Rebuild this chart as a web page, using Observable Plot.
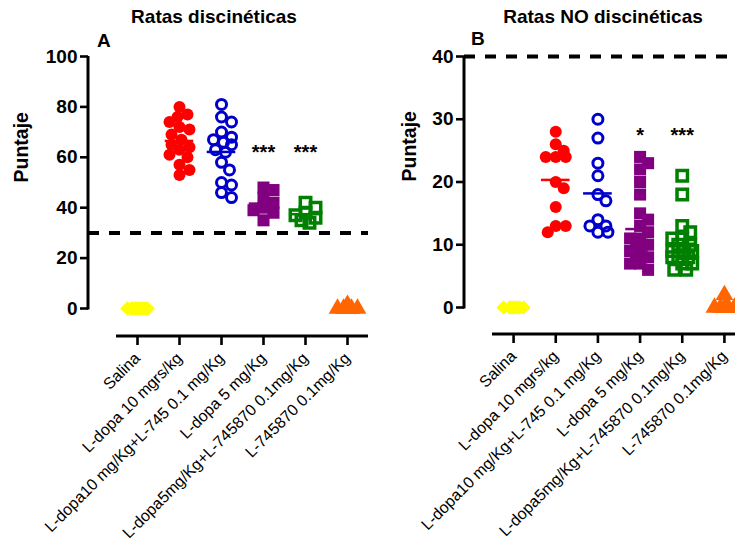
<!DOCTYPE html>
<html>
<head>
<meta charset="utf-8">
<script src="https://cdn.jsdelivr.net/npm/d3@7"></script>
<script src="https://cdn.jsdelivr.net/npm/@observablehq/plot@0.6"></script>
<style>
  html, body { margin: 0; padding: 0; background: #fff; }
  #chart { position: relative; width: 735px; height: 543px; overflow: hidden; background: #fff;
           font-family: "Liberation Sans", Arial, sans-serif; color: #000; }
  .ttl { position: absolute; font-weight: bold; font-size: 19px; white-space: nowrap; transform: translateX(-50%); line-height: 1; }
  .lbl { position: absolute; font-weight: bold; font-size: 19px; line-height: 1; }
  .panel { position: absolute; top: 0; width: 380px; height: 543px; }
  .panel svg { overflow: visible; background: transparent; max-width: none !important; height: 543px !important; }
</style>
</head>
<body>
<div id="chart">
  <div class="ttl" style="left:214px; top:7px;">Ratas discinéticas</div>
  <div class="ttl" style="left:603px; top:7px;">Ratas NO discinéticas</div>
  <div class="lbl" style="left:97px; top:31px;">A</div>
  <div class="lbl" style="left:471px; top:29px;">B</div>
  <div class="panel" id="pA" style="left:0px;"></div>
  <div class="panel" id="pB" style="left:370px;"></div>
</div>
<script>
// ---------- data ----------
const categories = [
  "Salina",
  "L-dopa 10 mgrs/kg",
  "L-dopa10 mg/Kg+L-745 0.1 mg/Kg",
  "L-dopa 5 mg/Kg",
  "L-dopa5mg/Kg+L-745870 0.1mg/Kg",
  "L-745870 0.1mg/Kg"
];
const yLabel = "Puntaje";

// Panel A: Ratas discinéticas
const a_salina        = [0,0,0,0,0,0,0,0,0,0];
const a_ldopa10       = [80,77,76,74,72,71,69,67,65,64,63,61,60,57,55,53];
const a_ldopa10_l745  = [81,76,74,70,68,67,66,65,63,62,58,55,50,49,46,44];
const a_ldopa5        = [48,47,44,42,40,39,38,35];
const a_ldopa5_l745   = [42,40,38,37,36,35,34];
const a_l745          = [0,0,0,0,0,0,0,1.5];
const a_yTicks        = [0,20,40,60,80,100];
const a_threshold     = [30];
const a_sig           = ["","","","***","***",""];
const a_sigLevel      = 62;

// Panel B: Ratas NO discinéticas
const b_salina        = [0,0,0,0,0,0,0,0];
const b_ldopa10       = [28,26,25,24,24,24,20,19,16,13,13,12];
const b_ldopa10_l745  = [30,27,23,21,18,17,14,13,13,12,12];
const b_ldopa5        = [24,23,22,20,18,15,14,13,12,11,11,10,10,10,9,9,8,8,8,7,7,6];
const b_ldopa5_l745   = [21,18,13,12,11,11,10,10,9,9,9,8,8,8,7,7,6,6];
const b_l745          = [0,0,0,0,0,0,2];
const b_yTicks        = [0,10,20,30,40];
const b_threshold     = [40];
const b_sig           = ["","","","*","***",""];
const b_sigLevel      = 27.4;

// ---------- styles ----------
const groupStyles = [
  {symbol: "diamond2", r: 6.5, fill: "#ffff00", stroke: "none", strokeWidth: 0, color: "#ffff00"},
  {symbol: "circle",   r: 6,   fill: "#ff0000", stroke: "none", strokeWidth: 0, color: "#ff0000"},
  {symbol: "circle",   r: 5,   fill: "none", stroke: "#0000cc", strokeWidth: 3, color: "#0000cc"},
  {symbol: "square",   r: 6.8, fill: "#800080", stroke: "none", strokeWidth: 0, color: "#800080"},
  {symbol: "square",   r: 5.9, fill: "none", stroke: "#008000", strokeWidth: 3.5, color: "#008000"},
  {symbol: "triangle", r: 6.6, fill: "#ff6600", stroke: "none", strokeWidth: 0, color: "#ff6600"}
];
const FONT = "'Liberation Sans', Arial, sans-serif";

// deterministic column-scatter layout (pixel offsets), GraphPad-like
function swarm(values, pxY, D = 10, step = 2, maxHalf = 10) {
  const order = d3.range(values.length).sort((a, b) => d3.descending(values[a], values[b]) || a - b);
  const cands = [0];
  for (let k = 1; k * step <= maxHalf; k++) cands.push(k * step, -k * step);
  const placed = [], offs = new Array(values.length);
  for (const i of order) {
    const y = values[i] * pxY;
    let best = 0, bestD = -1;
    for (const c of cands) {
      let m = Infinity;
      for (const p of placed) { const d = Math.hypot(c - p.x, y - p.y); if (d < m) m = d; }
      if (m >= D) { best = c; bestD = m; break; }
      if (m > bestD + 1e-9) { bestD = m; best = c; }
    }
    offs[i] = best;
    placed.push({x: best, y});
  }
  return offs;
}

function drawPanel(el, cfg) {
  const xDomain = [-0.5, categories.length - 0.5];
  const pxX = (cfg.xRange[1] - cfg.xRange[0]) / (xDomain[1] - xDomain[0]);
  const pxY = (cfg.yRange[0] - cfg.yRange[1]) / (cfg.yDomain[1] - cfg.yDomain[0]);

  const marks = [];
  marks.push(Plot.ruleY(cfg.threshold, {stroke: "#000", strokeWidth: 4, strokeDasharray: "11,10"}));

  cfg.groups.forEach((vals, i) => {
    const offs = swarm(vals, pxY);
    const rows = vals.map((v, j) => ({group: i, value: v, xx: i + offs[j] / pxX}));
    const s = groupStyles[i];
    marks.push(Plot.dot(rows, {x: "xx", y: "value", symbol: s.symbol, r: s.r,
      fill: s.fill, stroke: s.stroke, strokeWidth: s.strokeWidth}));
  });

  cfg.groups.forEach((vals, i) => {
    const m = d3.mean(vals);
    if (m > 1) {
      marks.push(Plot.ruleY([{group: i, mean: m}], {
        y: "mean", x1: d => d.group - 0.34, x2: d => d.group + 0.34,
        stroke: groupStyles[i].color, strokeWidth: 2.5}));
    }
  });

  const sig = cfg.sig.map((s, i) => ({group: i, label: s})).filter(d => d.label);
  marks.push(Plot.text(sig, {x: "group", y: () => cfg.sigLevel, text: "label",
    fontSize: 20, fontWeight: "bold", fill: "#000"}));

  // axis lines
  marks.push((index, scales, values, dims) => {
    const g = d3.create("svg:g").attr("stroke", "#000").attr("stroke-width", 3).attr("fill", "none");
    g.append("line")
      .attr("x1", dims.marginLeft).attr("x2", dims.marginLeft)
      .attr("y1", scales.y(cfg.yDomain[0]) + 1.5).attr("y2", scales.y(cfg.yDomain[1]));
    const yb = dims.height - dims.marginBottom;
    g.append("line")
      .attr("x1", scales.x(xDomain[0])).attr("x2", scales.x(xDomain[1]))
      .attr("y1", yb).attr("y2", yb);
    return g.node();
  });

  marks.push(Plot.axisY(cfg.yTicks, {tickSize: 8, tickPadding: 3, fontSize: 19, fontWeight: "bold",
    strokeWidth: 2.6, label: null, tickFormat: d => String(d)}));
  marks.push(Plot.axisX(d3.range(categories.length), {tickSize: 9, tickPadding: 10, tickRotate: -45,
    tickFormat: i => categories[i], fontSize: 16, strokeWidth: 2.6, label: null}));

  marks.push(Plot.text([yLabel], {frameAnchor: "left", rotate: -90, dx: -cfg.labelDx, dy: -14,
    fontSize: 19.5, fontWeight: "bold", fill: "#000"}));

  const chart = Plot.plot({
    width: cfg.width, height: 543,
    marginLeft: cfg.marginLeft, marginRight: cfg.width - cfg.xRange[1], marginTop: cfg.yRange[1],
    marginBottom: 543 - cfg.xAxisY,
    x: {domain: xDomain, range: cfg.xRange},
    y: {domain: cfg.yDomain, range: cfg.yRange},
    style: {fontFamily: FONT, color: "#000", background: "transparent", overflow: "visible", maxWidth: "none"},
    marks
  });
  el.appendChild(chart);
}

drawPanel(document.getElementById("pA"), {
  width: 370, marginLeft: 88, xRange: [116, 368], yRange: [308, 56], yDomain: [0, 100], xAxisY: 336,
  groups: [a_salina, a_ldopa10, a_ldopa10_l745, a_ldopa5, a_ldopa5_l745, a_l745],
  yTicks: a_yTicks, threshold: a_threshold, sig: a_sig, sigLevel: a_sigLevel, labelDx: 67
});
drawPanel(document.getElementById("pB"), {
  width: 376, marginLeft: 94, xRange: [122, 375], yRange: [307, 56], yDomain: [0, 40], xAxisY: 334,
  groups: [b_salina, b_ldopa10, b_ldopa10_l745, b_ldopa5, b_ldopa5_l745, b_l745],
  yTicks: b_yTicks, threshold: b_threshold, sig: b_sig, sigLevel: b_sigLevel, labelDx: 55
});
</script>
</body>
</html>
